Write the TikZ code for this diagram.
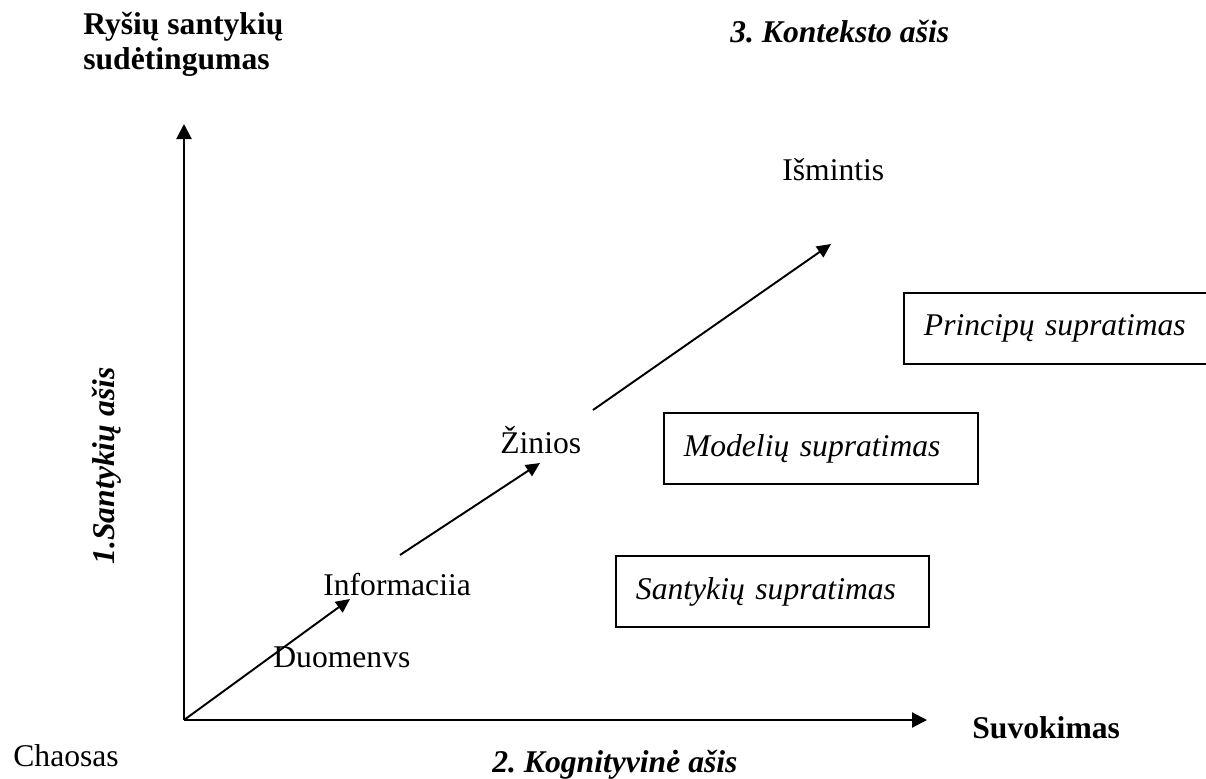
\documentclass[tikz,border=0pt]{standalone}
\usepackage{fontspec}
\setmainfont{Liberation Serif}
\frenchspacing
\usetikzlibrary{arrows.meta,positioning}
\tikzset{
  zyme/.style={font=\fontsize{18}{20}\selectfont, inner sep=0pt},
  antraste/.style={font=\fontsize{18}{20}\selectfont\bfseries,
    inner sep=0pt, align=left},
  asispav/.style={font=\fontsize{18}{20}\selectfont\bfseries\itshape,
    inner sep=0pt},
  remas/.style={rectangle, draw, line width=1.1pt, anchor=north west,
    font=\fontsize{18}{20}\selectfont\itshape, align=left,
    inner xsep=0.4cm, inner ysep=0pt, minimum height=1.42cm},
  asis/.style={-{Triangle[length=0.3cm,width=0.3cm]}, line width=1.2pt},
  rodykle/.style={-{Triangle[length=0.28cm,width=0.26cm]}, line width=1.1pt}
}

\begin{document}
\begin{tikzpicture}[x=0.02cm, y=-0.02cm]
\useasboundingbox (0,0) rectangle (1206,778);

\coordinate (O) at (184,720);
\coordinate (ytip) at (184,124);
\coordinate (xtip) at (927,720);

\node[antraste, anchor=north west] (rysiai) at (83,12)
  {Ryšių santykių\\sudėtingumas};
\node[asispav, anchor=base west] (kontekstas) at (730,42) {3. Konteksto ašis};
\node[asispav, anchor=base, rotate=90] (santykiai) at (114,466)
  {1.Santykių ašis};
\node[asispav, anchor=base west] (kognit) at (492,772) {2. Kognityvinė ašis};
\node[antraste, anchor=base west] (suvok) at (972,738) {Suvokimas};
\node[zyme, anchor=base west] (chaos) at (13,766) {Chaosas};

\node[zyme, anchor=base west] (duom) at (273,667) {Duomenvs};
\node[zyme, anchor=base west] (info) at (323,595) {Informaciia};
\node[zyme, anchor=base west] (zin) at (500,453) {Žinios};
\node[zyme, anchor=base west] (ism) at (782,180) {Išmintis};

\node[remas, text width=5.3cm] (principai) at (903,292) {Principų supratimas};
\node[remas, text width=5.48cm] (modeliai) at (663,412) {Modelių supratimas};
\node[remas, text width=5.46cm] (santyk) at (615,555) {Santykių supratimas};

\coordinate (r1) at (350,599);
\coordinate (r2a) at (400,555);
\coordinate (r2b) at (540,463);
\coordinate (r3a) at (593,410);
\coordinate (r3b) at (831,244);

\draw[asis] (O) -- (ytip);
\draw[asis] (O) -- (xtip);
\draw[rodykle] (O) -- (r1);
\draw[rodykle] (r2a) -- (r2b);
\draw[rodykle] (r3a) -- (r3b);

\end{tikzpicture}
\end{document}
